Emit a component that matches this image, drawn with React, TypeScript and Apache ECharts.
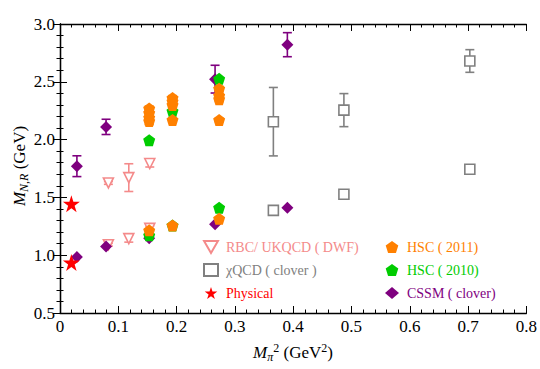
import React, { useEffect, useRef } from "react";
import * as echarts from "echarts";

// ---- data ----
const rbcX = [0.083, 0.118, 0.154, 0.083, 0.118, 0.154];
const rbcY = [1.625, 1.671, 1.793, 1.091, 1.143, 1.232];
const rbcErr = [0.012, 0.12, 0.03, 0.012, 0.03, 0.02];

const chiX = [0.366, 0.487, 0.703, 0.366, 0.487, 0.703];
const chiY = [2.155, 2.255, 2.68, 1.388, 1.527, 1.744];
const chiErr = [0.296, 0.143, 0.098, 0.0, 0.0, 0.0];

const physX = [0.0195, 0.0195];
const physY = [1.446, 0.937];

const hsc11X = [0.153, 0.153, 0.153, 0.153, 0.193, 0.193, 0.193, 0.193, 0.273, 0.273, 0.273, 0.273, 0.153, 0.193, 0.273];
const hsc11Y = [2.27, 2.23, 2.19, 2.16, 2.36, 2.33, 2.3, 2.17, 2.44, 2.38, 2.35, 2.17, 1.215, 1.258, 1.316];
const hsc11Err = [0.02, 0.02, 0.02, 0.03, 0.02, 0.02, 0.02, 0.015, 0.02, 0.02, 0.02, 0.015, 0.01, 0.01, 0.01];

const hsc10X = [0.153, 0.193, 0.273, 0.153, 0.193, 0.273];
const hsc10Y = [1.995, 2.246, 2.526, 1.172, 1.258, 1.411];

const cssmX = [0.029, 0.079, 0.266, 0.39, 0.029, 0.079, 0.153, 0.266, 0.39];
const cssmY = [1.77, 2.11, 2.523, 2.821, 0.984, 1.076, 1.146, 1.267, 1.411];
const cssmErr = [0.09, 0.066, 0.12, 0.104, 0, 0, 0, 0, 0];

const xTicks = ["0", "0.1", "0.2", "0.3", "0.4", "0.5", "0.6", "0.7", "0.8"];
const yTicks = ["0.5", "1.0", "1.5", "2.0", "2.5", "3.0"];

const keys = ["rbc", "chi", "phys", "h11", "h10", "cssm"];
const names: Record<string, string> = {
  rbc: "RBC/ UKQCD ( DWF)",
  chi: "χQCD ( clover )",
  phys: "Physical",
  h11: "HSC ( 2011)",
  h10: "HSC ( 2010)",
  cssm: "CSSM ( clover)",
};

const colors: Record<string, string> = {
  rbc: "#F48A8A",
  chi: "#808080",
  phys: "#FF0000",
  h11: "#FF8000",
  h10: "#00CC00",
  cssm: "#7F007F",
};

const FONT = "Liberation Serif";

const pentagon = "path://M0,-100 L95.1,-30.9 L58.8,80.9 L-58.8,80.9 L-95.1,-30.9 Z";
const star =
  "path://M0,-100 L22.5,-30.9 L95.1,-30.9 L36.3,11.8 L58.8,80.9 L0,38.2 L-58.8,80.9 L-36.3,11.8 L-95.1,-30.9 L-22.5,-30.9 Z";
const downTri = "path://M0,100 L-100,-73 L100,-73 Z";

function pts(xs: number[], ys: number[]) {
  return xs.map((x, i) => [x, ys[i]]);
}

function errData(xs: number[], ys: number[], es: number[]) {
  return xs
    .map((x, i) => [x, ys[i] - es[i], ys[i] + es[i]])
    .filter((d, i) => es[i] > 0);
}

function errSeries(data: number[][], color: string, z: number) {
  return {
    type: "custom",
    z,
    silent: true,
    renderItem: (params: any, api: any) => {
      const x = api.value(0);
      const lo = api.coord([x, api.value(1)]);
      const hi = api.coord([x, api.value(2)]);
      const w = 4.5;
      const style = { stroke: color, lineWidth: 1.6 };
      return {
        type: "group",
        children: [
          { type: "line", shape: { x1: lo[0], y1: lo[1], x2: hi[0], y2: hi[1] }, style },
          { type: "line", shape: { x1: lo[0] - w, y1: lo[1], x2: lo[0] + w, y2: lo[1] }, style },
          { type: "line", shape: { x1: hi[0] - w, y1: hi[1], x2: hi[0] + w, y2: hi[1] }, style },
        ],
      };
    },
    data,
  };
}

export default function App() {
  const ref = useRef<HTMLDivElement>(null);
  useEffect(() => {
    if (!ref.current) return;
    const chart = echarts.init(ref.current, null, { renderer: "svg" });
    const axisLine = { show: true, lineStyle: { color: "#000", width: 1.3 } };
    const tickStyle = { color: "#000", width: 1 };
    const xBase = {
      type: "value",
      min: 0,
      max: 0.8,
      interval: 0.1,
      splitLine: { show: false },
      axisLine,
      axisTick: { show: true, inside: true, length: 7, lineStyle: tickStyle },
      minorTick: { show: true, splitNumber: 5, length: 3.5, lineStyle: tickStyle },
      minorSplitLine: { show: false },
    };
    const yBase = {
      type: "value",
      min: 0.5,
      max: 3.0,
      interval: 0.5,
      splitLine: { show: false },
      axisLine,
      axisTick: { show: true, inside: true, length: 7, lineStyle: tickStyle },
      minorTick: { show: true, splitNumber: 5, length: 3.5, lineStyle: tickStyle },
      minorSplitLine: { show: false },
    };
    const tickRich = { t: { fontFamily: FONT, fontSize: 17, color: "#000" } };
    const scatter = (name: string, data: number[][], symbol: string, size: number, color: string, z: number, empty = false) => ({
      type: "scatter",
      name,
      data,
      symbol,
      symbolSize: size,
      z,
      itemStyle: empty
        ? { color: "#fff", borderColor: color, borderWidth: 1.6, opacity: 1 }
        : { color, opacity: 1 },
    });
    const legendRich: any = {};
    keys.forEach((k) => {
      legendRich[k] = { fontFamily: FONT, fontSize: 14, color: colors[k], padding: [0, 0, 0, 3] };
    });
    const keyOf = (n: string) => keys.find((k) => names[k] === n) || "rbc";
    const legendBase = {
      orient: "vertical",
      top: 235,
      itemGap: 9,
      itemWidth: 14,
      itemHeight: 12,
      formatter: (n: string) => `{${keyOf(n)}|${n}}`,
      textStyle: { fontFamily: FONT, fontSize: 14, rich: legendRich },
    };
    const italic = { fontFamily: FONT, fontSize: 17, fontStyle: "italic", fill: "#000" };
    const option: any = {
      animation: false,
      backgroundColor: "#fff",
      textStyle: { fontFamily: FONT },
      grid: { left: 60, right: 13, top: 24, bottom: 56, containLabel: false },
      xAxis: [
        {
          ...xBase,
          position: "bottom",
          axisLabel: {
            fontFamily: FONT,
            fontSize: 17,
            color: "#000",
            margin: 5,
            formatter: (v: number) => `{t|${xTicks[Math.round(v * 10)] ?? ""}}`,
            rich: tickRich,
          },
        },
        { ...xBase, position: "top", axisLabel: { show: false } },
      ],
      yAxis: [
        {
          ...yBase,
          position: "left",
          axisLabel: {
            fontFamily: FONT,
            fontSize: 17,
            color: "#000",
            margin: 5,
            formatter: (v: number) => `{t|${yTicks[Math.round((v - 0.5) * 2)] ?? ""}}`,
            rich: tickRich,
          },
        },
        { ...yBase, position: "right", axisLabel: { show: false } },
      ],
      graphic: [
        {
          type: "text",
          x: 19,
          y: 166,
          rotation: Math.PI / 2,
          style: {
            text: "{i|M}{sub|N,R} {n|(GeV)}",
            align: "center",
            verticalAlign: "middle",
            fontFamily: FONT,
            fontSize: 17,
            fill: "#000",
            rich: {
              i: italic,
              sub: { fontFamily: FONT, fontSize: 12, fontStyle: "italic", fill: "#000", padding: [9, 0, 0, 0] },
              n: { fontFamily: FONT, fontSize: 17, fill: "#000" },
            },
          },
        },
        {
          type: "text",
          x: 293,
          y: 352,
          style: {
            text: "{i|M}{sub|π}{sup|2} {n|(GeV}{sup|2}{n|)}",
            align: "center",
            verticalAlign: "middle",
            fontFamily: FONT,
            fontSize: 17,
            fill: "#000",
            rich: {
              i: italic,
              sub: { fontFamily: FONT, fontSize: 12, fontStyle: "italic", fill: "#000", padding: [9, 0, 0, 0] },
              sup: { fontFamily: FONT, fontSize: 12, fill: "#000", padding: [0, 0, 9, 0] },
              n: { fontFamily: FONT, fontSize: 17, fill: "#000" },
            },
          },
        },
      ],
      legend: [
        {
          ...legendBase,
          left: 198,
          data: [names.rbc, names.chi, names.phys],
        },
        {
          ...legendBase,
          left: 380,
          data: [names.h11, names.h10, names.cssm],
        },
      ],
      series: [
        errSeries(errData(rbcX, rbcY, rbcErr), colors.rbc, 2),
        scatter(names.rbc, pts(rbcX, rbcY), downTri, 10, colors.rbc, 3, true),
        errSeries(errData(chiX, chiY, chiErr), colors.chi, 2),
        scatter(names.chi, pts(chiX, chiY), "rect", 10, colors.chi, 3, true),
        errSeries(errData(cssmX, cssmY, cssmErr), colors.cssm, 4),
        scatter(names.cssm, pts(cssmX, cssmY), "diamond", 12, colors.cssm, 5),
        scatter(names.h10, pts(hsc10X, hsc10Y), pentagon, 12, colors.h10, 6),
        errSeries(errData(hsc11X, hsc11Y, hsc11Err), colors.h11, 7),
        scatter(names.h11, pts(hsc11X, hsc11Y), pentagon, 12, colors.h11, 8),
        scatter(names.phys, pts(physX, physY), star, 17, colors.phys, 9),
      ],
    };
    chart.setOption(option);
    return () => chart.dispose();
  }, []);
  return (
    <div
      ref={ref}
      style={{ position: "absolute", left: 0, top: 0, width: 540, height: 369 }}
    />
  );
}
